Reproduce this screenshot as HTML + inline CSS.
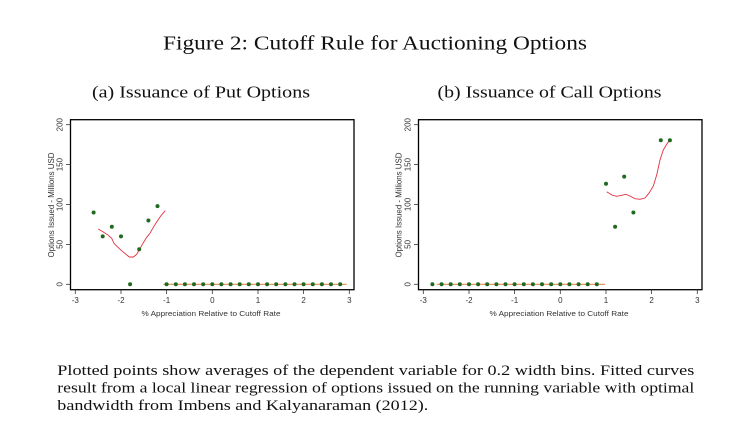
<!DOCTYPE html>
<html><head><meta charset="utf-8"><style>
html,body{margin:0;padding:0;background:#fff;}
svg{display:block;}
.serif{font-family:"Liberation Serif",serif;fill:#111;}
.sans{font-family:"Liberation Sans",sans-serif;fill:#333;}
</style></head><body>
<svg width="746" height="443" viewBox="0 0 746 443" xmlns="http://www.w3.org/2000/svg">
<rect width="746" height="443" fill="#fff"/>
<text class="serif" x="163" y="49.5" font-size="20" textLength="424" lengthAdjust="spacingAndGlyphs">Figure 2: Cutoff Rule for Auctioning Options</text>
<text class="serif" x="92" y="97.7" font-size="17" textLength="218" lengthAdjust="spacingAndGlyphs">(a) Issuance of Put Options</text>
<text class="serif" x="437.5" y="97.7" font-size="17" textLength="224" lengthAdjust="spacingAndGlyphs">(b) Issuance of Call Options</text>

<!-- LEFT PANEL -->
<g>
<rect x="70.5" y="119.7" width="283.5" height="170" fill="none" stroke="#000" stroke-width="1.3"/>
<g stroke="#333" stroke-width="0.8">
<line x1="66" y1="284.3" x2="70.5" y2="284.3"/><line x1="66" y1="244.4" x2="70.5" y2="244.4"/><line x1="66" y1="204.5" x2="70.5" y2="204.5"/><line x1="66" y1="164.6" x2="70.5" y2="164.6"/><line x1="66" y1="124.7" x2="70.5" y2="124.7"/>
<line x1="75.3" y1="289.7" x2="75.3" y2="294"/><line x1="121" y1="289.7" x2="121" y2="294"/><line x1="166.6" y1="289.7" x2="166.6" y2="294"/><line x1="212.3" y1="289.7" x2="212.3" y2="294"/><line x1="258" y1="289.7" x2="258" y2="294"/><line x1="303.6" y1="289.7" x2="303.6" y2="294"/><line x1="349.3" y1="289.7" x2="349.3" y2="294"/>
</g>
<g class="sans" font-size="8" text-anchor="middle">
<text transform="translate(62.5,284.3) rotate(-90)">0</text>
<text transform="translate(62.5,244.4) rotate(-90)">50</text>
<text transform="translate(62.5,204.5) rotate(-90)">100</text>
<text transform="translate(62.5,164.6) rotate(-90)">150</text>
<text transform="translate(62.5,124.7) rotate(-90)">200</text>
<text x="75.3" y="303">-3</text><text x="121" y="303">-2</text><text x="166.6" y="303">-1</text><text x="212.3" y="303">0</text><text x="258" y="303">1</text><text x="303.6" y="303">2</text><text x="349.3" y="303">3</text>
<text transform="translate(54,205) rotate(-90)" textLength="105" lengthAdjust="spacingAndGlyphs">Options Issued - Millions USD</text>
<text x="211" y="316" font-size="7.5" textLength="139" lengthAdjust="spacingAndGlyphs">% Appreciation Relative to Cutoff Rate</text>
</g>
<line x1="163.3" y1="284.3" x2="346.7" y2="284.3" stroke="#e08a55" stroke-width="1.1"/>
<polyline fill="none" stroke="#e0303e" stroke-width="0.9" points="98.3,229 103.3,232 108.3,235.3 111.7,238.3 114,243.3 117.3,246.7 121.7,250.7 126,254.3 129.3,257 133.3,257 136.7,254.3 140,248.7 143.3,242.7 146.7,237.3 150,233.3 153.3,227.3 156.7,222 160.7,216 165.3,210.7"/>
<g fill="#1f6a1f">
<circle cx="93.6" cy="212.5" r="2"/><circle cx="102.7" cy="236.4" r="2"/><circle cx="111.8" cy="226.8" r="2"/><circle cx="121" cy="236.4" r="2"/><circle cx="130.1" cy="284.3" r="2"/><circle cx="139.2" cy="249.2" r="2"/><circle cx="148.4" cy="220.5" r="2"/><circle cx="157.5" cy="206.1" r="2"/>
<circle cx="166.6" cy="284.3" r="2"/><circle cx="175.8" cy="284.3" r="2"/><circle cx="184.9" cy="284.3" r="2"/><circle cx="194.0" cy="284.3" r="2"/><circle cx="203.2" cy="284.3" r="2"/><circle cx="212.3" cy="284.3" r="2"/><circle cx="221.4" cy="284.3" r="2"/><circle cx="230.6" cy="284.3" r="2"/><circle cx="239.7" cy="284.3" r="2"/><circle cx="248.8" cy="284.3" r="2"/><circle cx="258.0" cy="284.3" r="2"/><circle cx="267.1" cy="284.3" r="2"/><circle cx="276.2" cy="284.3" r="2"/><circle cx="285.4" cy="284.3" r="2"/><circle cx="294.5" cy="284.3" r="2"/><circle cx="303.6" cy="284.3" r="2"/><circle cx="312.8" cy="284.3" r="2"/><circle cx="321.9" cy="284.3" r="2"/><circle cx="331.0" cy="284.3" r="2"/><circle cx="340.2" cy="284.3" r="2"/>
</g>
</g>

<!-- RIGHT PANEL -->
<g>
<rect x="418.5" y="119.7" width="283.5" height="170" fill="none" stroke="#000" stroke-width="1.3"/>
<g stroke="#333" stroke-width="0.8">
<line x1="414" y1="284.3" x2="418.5" y2="284.3"/><line x1="414" y1="244.4" x2="418.5" y2="244.4"/><line x1="414" y1="204.5" x2="418.5" y2="204.5"/><line x1="414" y1="164.6" x2="418.5" y2="164.6"/><line x1="414" y1="124.7" x2="418.5" y2="124.7"/>
<line x1="423.3" y1="289.7" x2="423.3" y2="294"/><line x1="469" y1="289.7" x2="469" y2="294"/><line x1="514.6" y1="289.7" x2="514.6" y2="294"/><line x1="560.3" y1="289.7" x2="560.3" y2="294"/><line x1="606" y1="289.7" x2="606" y2="294"/><line x1="651.6" y1="289.7" x2="651.6" y2="294"/><line x1="697.3" y1="289.7" x2="697.3" y2="294"/>
</g>
<g class="sans" font-size="8" text-anchor="middle">
<text transform="translate(410.5,284.3) rotate(-90)">0</text>
<text transform="translate(410.5,244.4) rotate(-90)">50</text>
<text transform="translate(410.5,204.5) rotate(-90)">100</text>
<text transform="translate(410.5,164.6) rotate(-90)">150</text>
<text transform="translate(410.5,124.7) rotate(-90)">200</text>
<text x="423.3" y="303">-3</text><text x="469" y="303">-2</text><text x="514.6" y="303">-1</text><text x="560.3" y="303">0</text><text x="606" y="303">1</text><text x="651.6" y="303">2</text><text x="697.3" y="303">3</text>
<text transform="translate(401.5,205) rotate(-90)" textLength="105" lengthAdjust="spacingAndGlyphs">Options Issued - Millions USD</text>
<text x="559" y="316" font-size="7.5" textLength="139" lengthAdjust="spacingAndGlyphs">% Appreciation Relative to Cutoff Rate</text>
</g>
<line x1="436.7" y1="284.3" x2="605" y2="284.3" stroke="#e08a55" stroke-width="1.1"/>
<polyline fill="none" stroke="#e0303e" stroke-width="0.9" points="606.7,191.7 611.7,195 616.7,196.3 621.7,195.3 626,194.3 630,196 635,198.7 640,199.3 645,198 649.3,192.7 653.3,186 656.7,175 660,160 663.3,150 667.3,143.3 670.7,139.3"/>
<g fill="#1f6a1f">
<circle cx="432.4" cy="284.3" r="2"/><circle cx="441.6" cy="284.3" r="2"/><circle cx="450.7" cy="284.3" r="2"/><circle cx="459.8" cy="284.3" r="2"/><circle cx="469.0" cy="284.3" r="2"/><circle cx="478.1" cy="284.3" r="2"/><circle cx="487.2" cy="284.3" r="2"/><circle cx="496.4" cy="284.3" r="2"/><circle cx="505.5" cy="284.3" r="2"/><circle cx="514.6" cy="284.3" r="2"/><circle cx="523.8" cy="284.3" r="2"/><circle cx="532.9" cy="284.3" r="2"/><circle cx="542.0" cy="284.3" r="2"/><circle cx="551.2" cy="284.3" r="2"/><circle cx="560.3" cy="284.3" r="2"/><circle cx="569.4" cy="284.3" r="2"/><circle cx="578.6" cy="284.3" r="2"/><circle cx="587.7" cy="284.3" r="2"/><circle cx="596.8" cy="284.3" r="2"/>
<circle cx="606" cy="183.7" r="2"/><circle cx="615.1" cy="226.8" r="2"/><circle cx="624.2" cy="176.6" r="2"/><circle cx="633.4" cy="212.5" r="2"/><circle cx="660.8" cy="140.3" r="2"/><circle cx="669.9" cy="140.3" r="2"/>
</g>
</g>

<!-- CAPTION -->
<g class="serif" font-size="15">
<text x="57.3" y="375" textLength="637" lengthAdjust="spacingAndGlyphs">Plotted points show averages of the dependent variable for 0.2 width bins.  Fitted curves</text>
<text x="57.3" y="392.5" textLength="637" lengthAdjust="spacingAndGlyphs">result from a local linear regression of options issued on the running variable with optimal</text>
<text x="57.3" y="410" textLength="371" lengthAdjust="spacingAndGlyphs">bandwidth from Imbens and Kalyanaraman (2012).</text>
</g>
</svg>
</body></html>
